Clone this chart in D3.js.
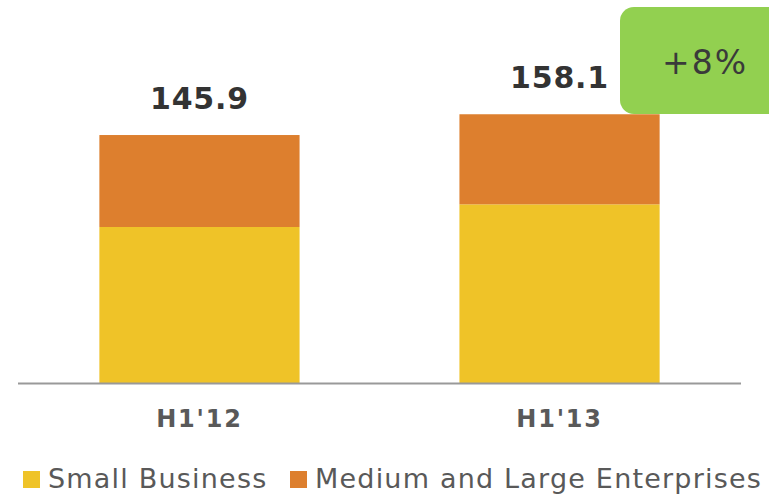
<!DOCTYPE html>
<html>
  <head>
    <meta charset="utf-8">
    <title>Small vs Medium and Large</title>
    <style>
        body { margin: 0; background: #fff; }
        text { font-family: "DejaVu Sans", Verdana, sans-serif; }
    </style>
  </head>
  <body>
    <div id="chart"></div>
    <script src="https://d3js.org/d3.v7.min.js"></script>
    <script>
        // data
        var periods = ["H1'12", "H1'13"];
        var smallBusiness = [91.9, 105.2];
        var mediumLarge = [54.0, 52.9];
        var totals = ["145.9", "158.1"];
        var seriesNames = ["Small Business", "Medium and Large Enterprises"];
        var seriesColors = ["#EFC328", "#DD7F2E"];
        var growthLabel = "+8%";

        var width = 769, height = 495;
        var baseY = 383.5;

        var svg = d3.select("#chart")
          .append("svg")
            .attr("width", width)
            .attr("height", height);

        var x = d3.scaleBand()
          .domain(periods)
          .range([18, 741])
          .paddingInner(0.444)
          .paddingOuter(0.226);

        var y = d3.scaleLinear()
          .domain([0, 160])
          .range([baseY, baseY - 160 * 1.703]);

        var rows = periods.map(function(p, i) {
          return { period: p, small: smallBusiness[i], medium: mediumLarge[i], total: totals[i] };
        });

        var stack = d3.stack().keys(["small", "medium"]);
        var layers = stack(rows);

        // green growth badge
        var badge = svg.append("g");
        badge.append("rect")
          .attr("x", 620)
          .attr("y", 7)
          .attr("width", 170)
          .attr("height", 107)
          .attr("rx", 14)
          .style("fill", "#92D050");
        badge.append("text")
          .attr("x", 705)
          .attr("y", 74)
          .attr("text-anchor", "middle")
          .style("font-size", "33px")
          .style("letter-spacing", "2px")
          .style("fill", "#3a3a3a")
          .text(growthLabel);

        svg.append("g")
          .selectAll("g")
          .data(layers)
          .enter()
          .append("g")
            .style("fill", function(d, i) { return seriesColors[i]; })
          .selectAll("rect")
          .data(function(d) { return d; })
          .enter()
          .append("rect")
            .attr("x", function(d) { return x(d.data.period); })
            .attr("y", function(d) { return y(d[1]); })
            .attr("width", x.bandwidth())
            .attr("height", function(d) { return y(d[0]) - y(d[1]); });

        // total labels
        svg.selectAll(".total")
          .data(rows)
          .enter()
          .append("text")
            .attr("class", "total")
            .attr("x", function(d) { return x(d.period) + x.bandwidth() / 2; })
            .attr("y", function(d) { return y(d.small + d.medium) - 26; })
            .attr("text-anchor", "middle")
            .style("font-size", "30px")
            .style("font-weight", "bold")
            .style("letter-spacing", "0.8px")
            .style("fill", "#333333")
            .text(function(d) { return d.total; });

        // baseline
        svg.append("line")
          .attr("x1", 18)
          .attr("x2", 741)
          .attr("y1", baseY)
          .attr("y2", baseY)
          .style("stroke", "#999999")
          .style("stroke-width", 2);

        // category labels
        svg.selectAll(".cat")
          .data(periods)
          .enter()
          .append("text")
            .attr("class", "cat")
            .attr("x", function(d) { return x(d) + x.bandwidth() / 2; })
            .attr("y", 427)
            .attr("text-anchor", "middle")
            .style("font-size", "24px")
            .style("font-weight", "bold")
            .style("letter-spacing", "1.8px")
            .style("fill", "#595959")
            .text(function(d) { return d; });

        // legend
        var legendX = [23, 290];
        var legend = svg.selectAll(".legend")
          .data(seriesNames)
          .enter()
          .append("g")
            .attr("class", "legend")
            .attr("transform", function(d, i) { return "translate(" + legendX[i] + ",0)"; });
        legend.append("rect")
          .attr("x", 0)
          .attr("y", 471)
          .attr("width", 17)
          .attr("height", 17)
          .style("fill", function(d, i) { return seriesColors[i]; });
        legend.append("text")
          .attr("x", 25)
          .attr("y", 488)
          .style("font-size", "27px")
          .style("letter-spacing", "1.2px")
          .style("fill", "#595959")
          .text(function(d) { return d; });
    </script>
  </body>
</html>
